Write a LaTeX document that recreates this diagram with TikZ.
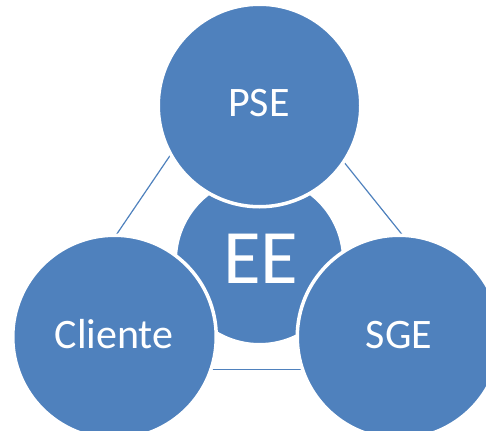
\documentclass[tikz,border=0pt]{standalone}
\usepackage{fontspec}
\setmainfont{Carlito}
\definecolor{ppblue}{HTML}{4F81BD}
\begin{document}
\begin{tikzpicture}[x=1pt,y=-1pt,
  bubble/.style={circle, fill=ppblue, draw=white, line width=3.5pt, inner sep=0pt, outer sep=0pt},
  link/.style={draw=ppblue, line width=1.2pt},
  lbl/.style={text=white, anchor=base, inner sep=0pt, font=\fontsize{42}{42}\selectfont},
  biglbl/.style={text=white, anchor=base, inner sep=0pt, font=\fontsize{77}{77}\selectfont}]
\useasboundingbox (0,0) rectangle (486,430);
\begin{scope}
\clip (0,0) rectangle (486,430);
% connector ends
\coordinate (l1a) at (111,242.6);
\coordinate (l1b) at (178.3,143.4);
\coordinate (l2a) at (336,152.2);
\coordinate (l2b) at (407.9,241.8);
\coordinate (l3a) at (200,369.3);
\coordinate (l3b) at (312,369.3);
\draw[link] (l1a) -- (l1b);
\draw[link] (l2a) -- (l2b);
\draw[link] (l3a) -- (l3b);
% circles
\node[bubble, minimum size=168.5pt] (ee) at (259.5,260.5) {};
\node[bubble, minimum size=202.5pt] (pse) at (259.5,105.5) {};
\node[bubble, minimum size=203.5pt] (cli) at (114.5,337) {};
\node[bubble, minimum size=203.5pt] (sge) at (399,337) {};
\end{scope}
% labels
\node[lbl] (tpse) at (259,116.7) {PSE};
\node[biglbl] (tee) at (261,283) {EE};
\node[lbl] (tcli) at (114,348) {Cliente};
\node[lbl] (tsge) at (399,348) {SGE};
\end{tikzpicture}
\end{document}
